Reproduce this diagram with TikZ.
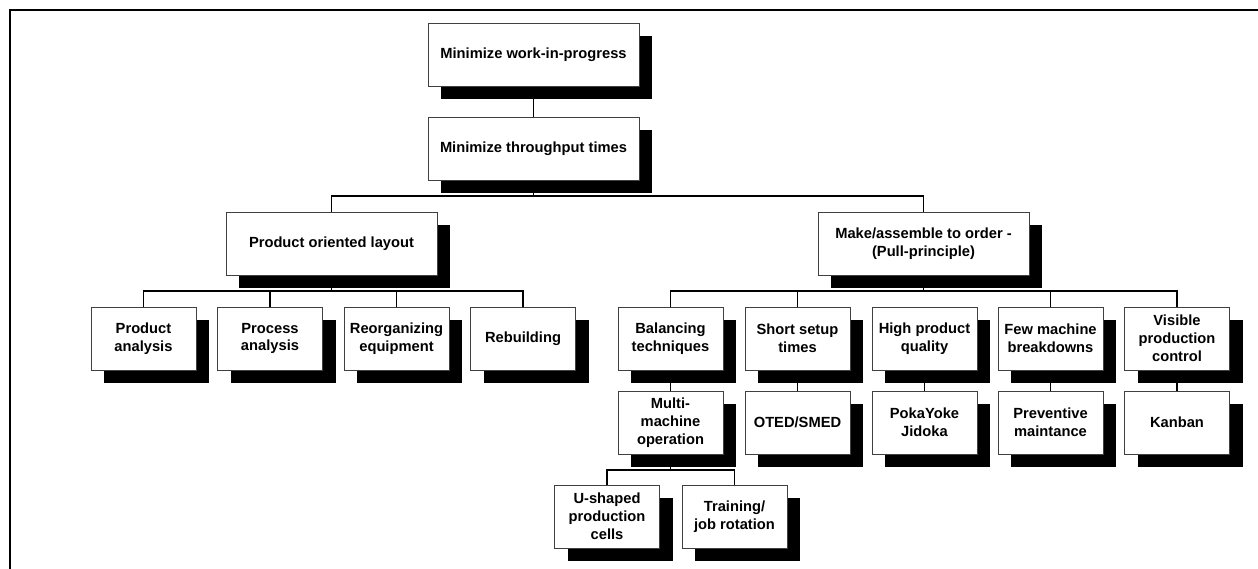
\documentclass[tikz,border=0pt]{standalone}
\usepackage{fontspec}
\setmainfont{Liberation Sans}
\usetikzlibrary{shadows}
\begin{document}
\begin{tikzpicture}[x=1pt,y=-1pt,
  every node/.style={font=\bfseries\fontsize{14.7}{17.8}\selectfont},
  box/.style={draw=black!75, line width=0.9pt, fill=white, align=center,
    inner sep=0pt, minimum height=63pt,
    drop shadow={shadow xshift=13pt, shadow yshift=-13pt, fill=black, opacity=1}},
  bigbox/.style={box, minimum width=211pt},
  leaf/.style={box, minimum width=105pt},
  conn/.style={line width=1.2pt, black},
  frame/.style={line width=2pt, black}]
\useasboundingbox (0,0) rectangle (1258,569);
% frame
\coordinate (f1) at (10,10);
\coordinate (f2) at (1258,10);
\coordinate (f3) at (10,569);
\draw[frame] (f2) -- (f1) -- (f3);
% bus coordinates
\coordinate (b1l) at (331.5,196);
\coordinate (b1r) at (923.5,196);
\coordinate (b1m) at (533.5,196);
% connectors drawn first
\draw[conn] (533.5,86) -- (533.5,117);
\draw[conn] (533.5,181) -- (b1m);
\draw[conn] (331.5,212) -- (b1l) -- (b1r) -- (923.5,212);
\draw[conn] (331.5,275) -- (331.5,291);
\draw[conn] (143.5,307) -- (143.5,291) -- (523,291) -- (523,307);
\draw[conn] (270,291) -- (270,307);
\draw[conn] (396.5,291) -- (396.5,307);
\draw[conn] (923.5,275) -- (923.5,291);
\draw[conn] (670.5,307) -- (670.5,291) -- (1177,291) -- (1177,307);
\draw[conn] (797.5,291) -- (797.5,307);
\draw[conn] (1050.5,291) -- (1050.5,307);
\foreach \xx in {670.5,797.5,924.5,1050.5,1177}{
  \draw[conn] (\xx,370) -- (\xx,391);}
\draw[conn] (670.5,454) -- (670.5,470);
\draw[conn] (607,485) -- (607,470) -- (734.5,470) -- (734.5,485);
% nodes
\node[bigbox] (wip) at (533.5,54.5) {Minimize work-in-progress};
\node[bigbox] (thr) at (533.5,149) {Minimize throughput times};
\node[bigbox] (pol) at (331.5,243.5) {Product oriented layout};
\node[bigbox] (mto) at (923.5,243.5) {Make/assemble to order -\\(Pull-principle)};
\node[leaf] (pa) at (143.5,338.5) {Product\\analysis};
\node[leaf] (pra) at (270,338.5) {Process\\analysis};
\node[leaf] (reo) at (396.5,338.5) {Reorganizing\\equipment};
\node[leaf] (reb) at (523,338.5) {Rebuilding};
\node[leaf] (bal) at (670.5,338.5) {Balancing\\techniques};
\node[leaf] (sst) at (797.5,338.5) {Short setup\\times};
\node[leaf] (hpq) at (924.5,338.5) {High product\\quality};
\node[leaf] (fmb) at (1050.5,338.5) {Few machine\\breakdowns};
\node[leaf] (vpc) at (1177,338.5) {Visible\\production\\control};
\node[leaf] (mmo) at (670.5,422.5) {Multi-\\machine\\operation};
\node[leaf] (oted) at (797.5,422.5) {OTED/SMED};
\node[leaf] (poka) at (924.5,422.5) {PokaYoke\\Jidoka};
\node[leaf] (prev) at (1050.5,422.5) {Preventive\\maintance};
\node[leaf] (kan) at (1177,422.5) {Kanban};
\node[leaf] (ush) at (607,516.5) {U-shaped\\production\\cells};
\node[leaf] (tra) at (734.5,516.5) {Training/\\job rotation};
\end{tikzpicture}
\end{document}
